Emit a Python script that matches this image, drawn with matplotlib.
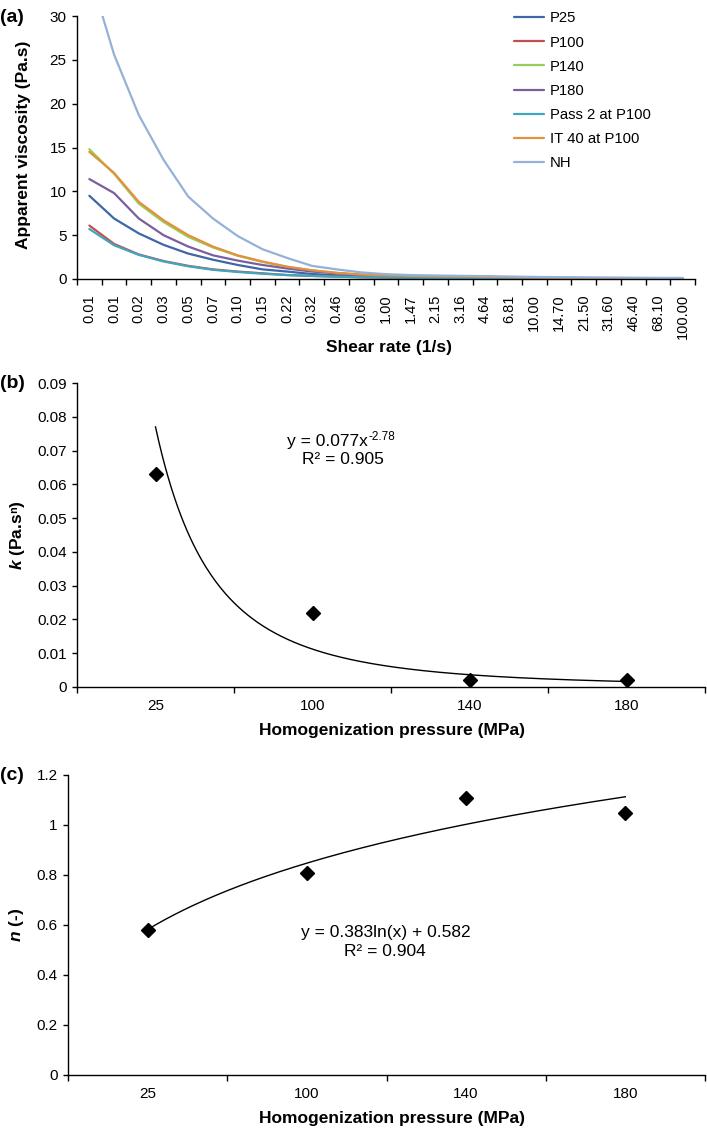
import matplotlib
matplotlib.use("Agg")
import matplotlib.pyplot as plt
import numpy as np

plt.rcParams['font.family'] = ['Liberation Sans', 'DejaVu Sans']
plt.rcParams['mathtext.fontset'] = 'custom'
plt.rcParams['mathtext.rm'] = 'Liberation Sans'
plt.rcParams['mathtext.it'] = 'Liberation Sans:italic'
plt.rcParams['mathtext.bf'] = 'Liberation Sans:bold'
plt.rcParams['mathtext.bfit'] = 'Liberation Sans:italic:bold'

# ---------------- Panel (a) data ----------------
shear_labels = ["0.01", "0.01", "0.02", "0.03", "0.05", "0.07", "0.10", "0.15", "0.22",
                "0.32", "0.46", "0.68", "1.00", "1.47", "2.15", "3.16", "4.64", "6.81",
                "10.00", "14.70", "21.50", "31.60", "46.40", "68.10", "100.00"]

p25 = [9.5, 6.9, 5.2, 3.9, 2.9, 2.2, 1.6, 1.1, 0.85, 0.57, 0.42, 0.3, 0.22, 0.18, 0.15,
       0.12, 0.1, 0.09, 0.08, 0.07, 0.06, 0.05, 0.05, 0.04, 0.04]
p100 = [6.1, 4.0, 2.8, 2.05, 1.5, 1.1, 0.85, 0.65, 0.45, 0.35, 0.27, 0.2, 0.16, 0.13, 0.11,
        0.1, 0.09, 0.08, 0.07, 0.06, 0.05, 0.05, 0.04, 0.04, 0.03]
p140 = [14.8, 12.0, 8.6, 6.5, 4.8, 3.6, 2.65, 1.95, 1.4, 0.98, 0.7, 0.5, 0.38, 0.32, 0.28,
        0.25, 0.22, 0.18, 0.15, 0.12, 0.1, 0.09, 0.08, 0.07, 0.06]
p180 = [11.4, 9.8, 6.9, 5.0, 3.7, 2.7, 2.1, 1.6, 1.2, 0.85, 0.65, 0.45, 0.35, 0.28, 0.24,
        0.2, 0.17, 0.14, 0.12, 0.1, 0.08, 0.07, 0.06, 0.05, 0.05]
pass2_p100 = [5.7, 3.85, 2.75, 2.0, 1.45, 1.05, 0.8, 0.6, 0.45, 0.35, 0.27, 0.2, 0.16, 0.13,
              0.11, 0.1, 0.09, 0.08, 0.07, 0.06, 0.05, 0.05, 0.04, 0.04, 0.03]
it40_p100 = [14.5, 12.1, 8.8, 6.7, 5.0, 3.7, 2.7, 2.0, 1.4, 1.0, 0.7, 0.5, 0.4, 0.35, 0.3,
             0.28, 0.25, 0.2, 0.16, 0.13, 0.11, 0.1, 0.08, 0.07, 0.06]
nh = [35.0, 25.6, 18.7, 13.6, 9.4, 6.9, 4.9, 3.4, 2.4, 1.5, 1.1, 0.75, 0.55, 0.45, 0.4, 0.36,
      0.33, 0.28, 0.24, 0.21, 0.19, 0.17, 0.15, 0.13, 0.12]

series_names = ["P25", "P100", "P140", "P180", "Pass 2 at P100", "IT 40 at P100", "NH"]
series_vals = [p25, p100, p140, p180, pass2_p100, it40_p100, nh]
series_colors = ["#3D67A6", "#C0504D", "#98CF58", "#7B5E9E", "#40A6C0", "#E3903F", "#95B1D8"]

# ---------------- Panels (b) and (c) data ----------------
pressure_labels = ["25", "100", "140", "180"]
k_values = [0.063, 0.022, 0.002, 0.002]
n_values = [0.58, 0.81, 1.11, 1.05]
k_coef, k_exp = 0.077, -2.78
n_slope, n_icpt = 0.383, 0.582

W, H = 707, 1136
TICK_FS = 11
LABEL_FS = 12.5
EQ_FS = 12.5
PANEL_FS = 14

fig = plt.figure(figsize=(W / 100, H / 100), dpi=100)


def frac_axes(left, right, top, bottom):
    return fig.add_axes([left / W, 1 - bottom / H, (right - left) / W, (bottom - top) / H])


def style_axes(ax):
    for s in ("top", "right"):
        ax.spines[s].set_visible(False)
    for s in ("left", "bottom"):
        ax.spines[s].set_linewidth(1.0)
    ax.tick_params(axis="y", direction="out", length=3.5, width=1.0, pad=4, labelsize=TICK_FS)


# ---------------- (a) ----------------
axa = frac_axes(77, 695, 16, 279)
style_axes(axa)
xa = np.arange(len(shear_labels))
for name, vals, col in zip(series_names, series_vals, series_colors):
    axa.plot(xa, vals, color=col, lw=1.6, label=name, solid_capstyle="round")
axa.set_xlim(-0.5, len(shear_labels) - 0.5)
axa.set_ylim(0, 30)
axa.set_yticks(np.arange(0, 31, 5))
axa.set_xticks(xa)
axa.set_xticklabels(shear_labels, rotation=90)
axa.set_xticks(np.arange(-0.5, len(shear_labels)), minor=True)
axa.tick_params(axis="x", which="major", length=0, pad=11, labelsize=TICK_FS - 0.5)
axa.tick_params(axis="x", which="minor", direction="out", length=4, width=1.0)
leg = axa.legend(loc="upper left", bbox_to_anchor=(507 / W, 1 - 4 / H),
                 bbox_transform=fig.transFigure, frameon=False, fontsize=10.7,
                 handlelength=2.0, handletextpad=0.4, labelspacing=0.68, borderpad=0)
fig.text(389 / W, 1 - 348 / H, "Shear rate (1/s)", ha="center", va="center",
         fontsize=LABEL_FS, fontweight="bold")
axa.set_ylabel("Apparent viscosity (Pa.s)", fontsize=LABEL_FS, fontweight="bold")
axa.yaxis.set_label_coords(-0.074, 0.51)
fig.text(0 / W, 1 - 17 / H, "(a)", ha="left", va="center", fontsize=PANEL_FS, fontweight="bold")


def category_panel(ax, values, ylim, yticks, ytick_fmt):
    style_axes(ax)
    xc = np.arange(1, len(pressure_labels) + 1)
    ax.plot(xc, values, linestyle="none", marker="D", markersize=7, color="black")
    ax.set_xlim(0.5, len(pressure_labels) + 0.5)
    ax.set_ylim(*ylim)
    ax.set_yticks(yticks)
    ax.set_yticklabels([ytick_fmt(v) for v in yticks])
    ax.set_xticks(xc)
    ax.set_xticklabels(pressure_labels)
    ax.set_xticks(np.arange(0.5, len(pressure_labels) + 1), minor=True)
    ax.tick_params(axis="x", which="major", length=0, pad=9, labelsize=TICK_FS)
    ax.tick_params(axis="x", which="minor", direction="out", length=4, width=1.0)
    return xc


def fmt_k(v):
    return "0" if abs(v) < 1e-9 else f"{v:.2f}"


def fmt_n(v):
    if abs(v) < 1e-9:
        return "0"
    s = f"{v:.1f}"
    return s[:-2] if s.endswith(".0") else s


# ---------------- (b) ----------------
axb = frac_axes(77, 705, 383, 687)
xb = category_panel(axb, k_values, (0, 0.09), np.round(np.arange(0, 0.0901, 0.01), 2), fmt_k)
xt = np.linspace(xb[0], xb[-1], 300)
axb.plot(xt, k_coef * xt ** k_exp, color="black", lw=1.0)
eq_base = fig.text(287 / W, 1 - 441 / H, "y = 0.077x", ha="left", va="center", fontsize=EQ_FS)
fig.text(343 / W, 1 - 459 / H, "R² = 0.905", ha="center", va="center", fontsize=EQ_FS)
axb.set_ylabel("$\\mathbfit{k}$ (Pa.s\u207f)", fontsize=LABEL_FS, fontweight="bold")
axb.yaxis.set_label_coords(-0.08, 0.5)
fig.text(392 / W, 1 - 731 / H, "Homogenization pressure (MPa)", ha="center", va="center",
         fontsize=LABEL_FS, fontweight="bold")
fig.text(0 / W, 1 - 383 / H, "(b)", ha="left", va="center", fontsize=PANEL_FS, fontweight="bold")

# ---------------- (c) ----------------
axc = frac_axes(68, 705, 775, 1075)
xcc = category_panel(axc, n_values, (0, 1.2), np.round(np.arange(0, 1.201, 0.2), 1), fmt_n)
xt = np.linspace(xcc[0], xcc[-1], 300)
axc.plot(xt, n_slope * np.log(xt) + n_icpt, color="black", lw=1.0)
fig.text(386 / W, 1 - 933 / H, "y = 0.383ln(x) + 0.582", ha="center", va="center", fontsize=EQ_FS)
fig.text(385 / W, 1 - 952 / H, "R² = 0.904", ha="center", va="center", fontsize=EQ_FS)
axc.set_ylabel("$\\mathbfit{n}$ (-)", fontsize=LABEL_FS, fontweight="bold")
axc.yaxis.set_label_coords(-0.066, 0.5)
fig.text(392 / W, 1 - 1118 / H, "Homogenization pressure (MPa)", ha="center", va="center",
         fontsize=LABEL_FS, fontweight="bold")
fig.text(0 / W, 1 - 775 / H, "(c)", ha="left", va="center", fontsize=PANEL_FS, fontweight="bold")

# superscript exponent placed right after the base text
fig.canvas.draw()
bb = eq_base.get_window_extent(renderer=fig.canvas.get_renderer())
fig.text(bb.x1 / W + 1 / W, (bb.y1 - 3) / H, f"{k_exp:.2f}", ha="left", va="center",
         fontsize=EQ_FS * 0.68)

fig.savefig("out.png", dpi=100)
